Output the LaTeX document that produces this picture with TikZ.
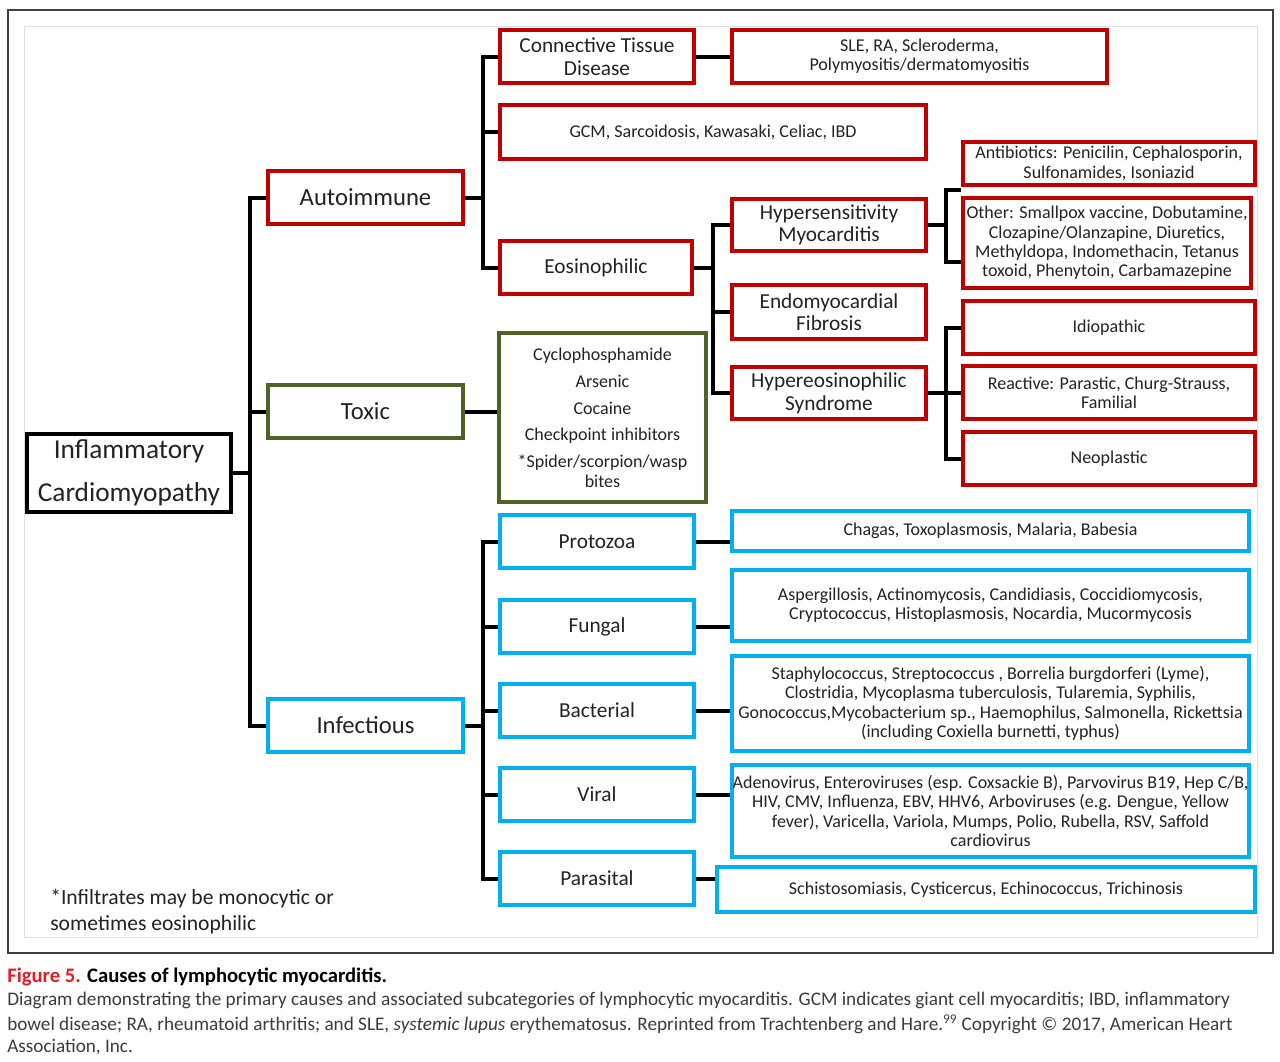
\documentclass[tikz,border=0pt]{standalone}
\usepackage{fontspec}
\setmainfont{Carlito}
\definecolor{cred}{RGB}{192,0,0}
\definecolor{cgrn}{RGB}{79,98,40}
\definecolor{cblu}{RGB}{0,176,240}
\definecolor{txt}{RGB}{35,35,35}
\definecolor{captxt}{RGB}{60,60,60}
\definecolor{capred}{RGB}{226,30,38}
\newcommand\mkbox[7]{%
  \pgfmathsetmacro\bw{(#4-#2)*0.75}%
  \pgfmathsetmacro\bh{(#5-#3)*0.75}%
  \node[#6, minimum width=\bw pt, minimum height=\bh pt] (#1) at ({(#2+#4)/2},{(#3+#5)/2}) {#7};}
\tikzset{
  bx/.style={draw, line width=2.4pt, align=center, inner sep=0pt, text=txt},
  redb/.style={bx, draw=cred},
  grnb/.style={bx, draw=cgrn},
  blub/.style={bx, draw=cblu},
  blkb/.style={bx, draw=black},
  conn/.style={line width=3pt, draw=black},
  fRoot/.style={font=\fontsize{20.5}{32}\selectfont},
  fOne/.style={font=\fontsize{18.5}{22}\selectfont},
  fTwo/.style={font=\fontsize{16}{17}\selectfont},
  fSm/.style={font=\fontsize{13.5}{14.5}\selectfont},
  fnote/.style={anchor=west, inner sep=0pt, text=txt, font=\fontsize{16.2}{19}\selectfont},
  captext/.style={anchor=west, inner sep=0pt, text=captxt, font=\fontsize{14.4}{16}\selectfont},
}
\begin{document}
\begin{tikzpicture}[x=0.75pt, y=-0.75pt]
\useasboundingbox (0,0) rectangle (1280,1061);
\fill[white] (0,0) rectangle (1280,1061);
\draw[line width=1.5pt, draw=black!75] (8,10) rectangle (1273,953);
\draw[line width=0.6pt, draw=black!12] (24,26) rectangle (1257,937);

\mkbox{root}{27}{434}{231}{512}{blkb,fRoot}{Inflammatory\\Cardiomyopathy}
\mkbox{auto}{268}{171}{463}{224}{redb,fOne}{Autoimmune}
\mkbox{toxic}{268}{385}{463}{438}{grnb,fOne}{Toxic}
\mkbox{infec}{268}{699}{463}{752}{blub,fOne}{Infectious}
\mkbox{ctd}{500}{30}{694}{83}{redb,fTwo}{Connective Tissue\\Disease}
\mkbox{sle}{732}{30}{1107}{83}{redb,fSm}{SLE, RA, Scleroderma,\\Polymyositis/dermatomyositis}
\mkbox{gcm}{500}{105}{926}{159}{redb,fSm}{GCM, Sarcoidosis, Kawasaki, Celiac, IBD}
\mkbox{eos}{500}{241}{692}{294}{redb,fTwo}{Eosinophilic}
\mkbox{toxl}{499}{333}{706}{502}{grnb,fSm}{Cyclophosphamide\\[5.7pt]Arsenic\\[5.7pt]Cocaine\\[5.7pt]Checkpoint inhibitors\\[5.7pt]*Spider/scorpion/wasp\\bites}
\mkbox{hyp}{732}{199}{926}{251}{redb,fTwo}{Hypersensitivity\\Myocarditis}
\mkbox{endo}{732}{285}{926}{339}{redb,fTwo}{Endomyocardial\\Fibrosis}
\mkbox{hes}{732}{367}{926}{419}{redb,fTwo}{Hypereosinophilic\\Syndrome}
\mkbox{anti}{963}{142}{1255}{185}{redb,fSm}{Antibiotics: Penicilin, Cephalosporin,\\Sulfonamides, Isoniazid}
\mkbox{other}{963}{198}{1251}{288}{redb,fSm}{Other: Smallpox vaccine, Dobutamine,\\Clozapine/Olanzapine, Diuretics,\\Methyldopa, Indomethacin, Tetanus\\toxoid, Phenytoin, Carbamazepine}
\mkbox{idio}{963}{301}{1255}{354}{redb,fSm}{Idiopathic}
\mkbox{react}{963}{366}{1255}{419}{redb,fSm}{Reactive: Parastic, Churg-Strauss,\\Familial}
\mkbox{neo}{963}{432}{1255}{485}{redb,fSm}{Neoplastic}
\mkbox{proto}{500}{515}{694}{568}{blub,fTwo}{Protozoa}
\mkbox{fung}{500}{600}{694}{653}{blub,fTwo}{Fungal}
\mkbox{bact}{500}{684}{694}{737}{blub,fTwo}{Bacterial}
\mkbox{viral}{500}{768}{694}{821}{blub,fTwo}{Viral}
\mkbox{para}{500}{852}{694}{905}{blub,fTwo}{Parasital}
\mkbox{chag}{732}{511}{1249}{551}{blub,fSm}{Chagas, Toxoplasmosis, Malaria, Babesia}
\mkbox{asp}{732}{570}{1249}{641}{blub,fSm}{Aspergillosis, Actinomycosis, Candidiasis, Coccidiomycosis,\\Cryptococcus, Histoplasmosis, Nocardia, Mucormycosis}
\mkbox{staph}{732}{656}{1249}{751}{blub,fSm}{Staphylococcus, Streptococcus , Borrelia burgdorferi (Lyme),\\Clostridia, Mycoplasma tuberculosis, Tularemia, Syphilis,\\Gonococcus,Mycobacterium sp., Haemophilus, Salmonella, Rickettsia\\(including Coxiella burnetti, typhus)}
\mkbox{adeno}{732}{765}{1249}{857}{blub,fSm}{Adenovirus, Enteroviruses (esp. Coxsackie B), Parvovirus B19, Hep C/B,\\HIV, CMV, Influenza, EBV, HHV6, Arboviruses (e.g. Dengue, Yellow\\fever), Varicella, Variola, Mumps, Polio, Rubella, RSV, Saffold\\cardiovirus}
\mkbox{schis}{717}{867}{1255}{912}{blub,fSm}{Schistosomiasis, Cysticercus, Echinococcus, Trichinosis}

% connectors
\path (root.east) ++(17,0) coordinate (j1);
\draw[conn] (root.east) -- (j1);
\draw[conn] (auto.west) -| (j1) |- (infec.west);
\draw[conn] (toxic.west) -- (toxic.west -| j1);

\path (auto.east) ++(18,0) coordinate (j2);
\draw[conn] (auto.east) -- (j2);
\draw[conn] (ctd.west) -| (j2) |- (eos.west);
\draw[conn] (gcm.west) -- (gcm.west -| j2);
\draw[conn] (ctd.east) -- (ctd.east -| sle.west);
\draw[conn] (toxic.east) -- (toxic.east -| toxl.west);

\path (eos.east) ++(19,0) coordinate (j3);
\draw[conn] (eos.east) -- (j3);
\draw[conn] (hyp.west) -| (j3) |- (hes.west);
\draw[conn] (endo.west) -- (endo.west -| j3);

\path (hyp.east) ++(18,0) coordinate (j4);
\coordinate (ya) at (0,190);
\coordinate (yb) at (0,262);
\coordinate (j4a) at (j4 |- ya);
\coordinate (j4b) at (j4 |- yb);
\draw[conn] (hyp.east) -- (j4);
\draw[conn] (j4a -| other.west) -- (j4a) -- (j4b) -- (j4b -| other.west);

\path (hes.east) ++(18,0) coordinate (j5);
\draw[conn] (hes.east) -- (j5);
\draw[conn] (idio.west) -| (j5) |- (neo.west);
\draw[conn] (react.west) -- (react.west -| j5);

\path (infec.east) ++(18,0) coordinate (j6);
\draw[conn] (infec.east) -- (j6);
\draw[conn] (proto.west) -| (j6) |- (para.west);
\draw[conn] (fung.west) -- (fung.west -| j6);
\draw[conn] (bact.west) -- (bact.west -| j6);
\draw[conn] (viral.west) -- (viral.west -| j6);
\draw[conn] (proto.east) -- (proto.east -| chag.west);
\draw[conn] (fung.east) -- (fung.east -| asp.west);
\draw[conn] (bact.east) -- (bact.east -| staph.west);
\draw[conn] (viral.east) -- (viral.east -| adeno.west);
\draw[conn] (para.east) -- (para.east -| schis.west);

% footnote
\node[fnote] (fn1) at (50,899) {*Infiltrates may be monocytic or};
\node[fnote] (fn2) at (50,925) {sometimes eosinophilic};

% caption
\node[captext, font=\fontsize{15.5}{17}\selectfont\bfseries, text=black] (cap0) at (7,977) {\textcolor{capred}{Figure 5.} Causes of lymphocytic myocarditis.};
\node[captext] (cap1) at (7,1000) {Diagram demonstrating the primary causes and associated subcategories of lymphocytic myocarditis. GCM indicates giant cell myocarditis; IBD, inflammatory};
\node[captext] (cap2) at (7,1024) {bowel disease; RA, rheumatoid arthritis; and SLE, \textit{systemic lupus} erythematosus. Reprinted from Trachtenberg and Hare.\textsuperscript{99} Copyright © 2017, American Heart};
\node[captext] (cap3) at (7,1047) {Association, Inc.};
\end{tikzpicture}
\end{document}
